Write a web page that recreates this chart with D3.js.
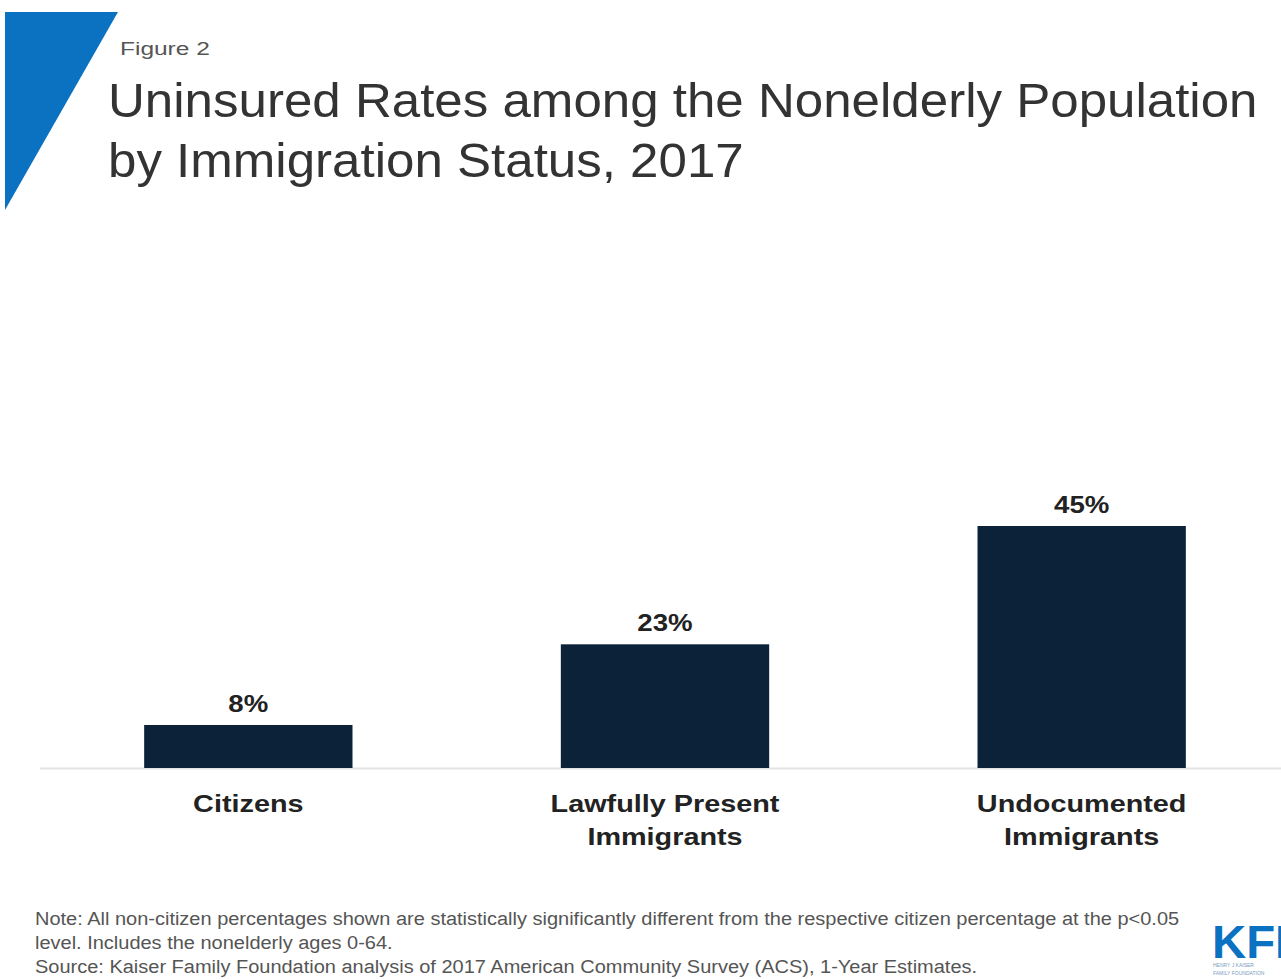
<!DOCTYPE html>
<html><head><meta charset="utf-8">
<script src="https://cdnjs.cloudflare.com/ajax/libs/d3/7.8.5/d3.min.js"></script>
<style>body{margin:0;background:#fff;}svg{display:block;}</style>
</head><body>
<script>
const categories = [["Citizens"], ["Lawfully Present", "Immigrants"], ["Undocumented", "Immigrants"]];
const values = [8, 23, 45];
const valueLabels = ["8%", "23%", "45%"];
const titleLines = ["Uninsured Rates among the Nonelderly Population", "by Immigration Status, 2017"];
const noteLines = [
  "Note: All non-citizen percentages shown are statistically significantly different from the respective citizen percentage at the p<0.05",
  "level. Includes the nonelderly ages 0-64.",
  "Source: Kaiser Family Foundation analysis of 2017 American Community Survey (ACS), 1-Year Estimates."
];

const W = 1281, H = 979;
const FONT = "Liberation Sans, Arial, sans-serif";
const svg = d3.select("body").append("svg").attr("width", W).attr("height", H);

// stretch text horizontally by a factor (reference type is wider than the font)
function stretch(sel, f) {
  sel.each(function () {
    const w = this.getComputedTextLength();
    d3.select(this).attr("textLength", w * f).attr("lengthAdjust", "spacingAndGlyphs");
  });
}

// blue triangle
svg.append("path").attr("d", "M5,12 L118,12 L5,210 Z").attr("fill", "#0a72c1");

svg.append("text").attr("x", 120).attr("y", 55).text("Figure 2")
  .attr("font-family", FONT).attr("font-size", 18).attr("fill", "#555")
  .call(stretch, 1.36);

svg.selectAll("text.title").data(titleLines).join("text").attr("class", "title")
  .attr("x", 108).attr("y", (d, i) => 117 + i * 60).text(d => d)
  .attr("font-family", FONT).attr("font-size", 49).attr("fill", "#333")
  .call(stretch, 1.042);

const baseY = 768;
const x = d3.scaleBand().domain(d3.range(values.length)).range([40, 1290]).paddingInner(0.5).paddingOuter(0.25);
const y = d3.scaleLinear().domain([0, 45]).range([baseY, 526]);

svg.append("line").attr("x1", 40).attr("x2", W).attr("y1", baseY + 0.5).attr("y2", baseY + 0.5)
  .attr("stroke", "#e4e4e4").attr("stroke-width", 2);

svg.selectAll("rect.bar").data(values).join("rect").attr("class", "bar")
  .attr("x", (d, i) => x(i)).attr("width", x.bandwidth())
  .attr("y", d => y(d)).attr("height", d => baseY - y(d)).attr("fill", "#0b2239");

svg.selectAll("text.val").data(values).join("text").attr("class", "val")
  .attr("x", (d, i) => x(i) + x.bandwidth() / 2).attr("y", d => y(d) - 13)
  .attr("text-anchor", "middle").text((d, i) => valueLabels[i])
  .attr("font-family", FONT).attr("font-weight", "bold").attr("font-size", 24).attr("fill", "#222")
  .call(stretch, 1.15);

categories.forEach((lines, i) => {
  svg.append("text").attr("class", "cat").attr("text-anchor", "middle")
    .attr("font-family", FONT).attr("font-weight", "bold").attr("font-size", 24).attr("fill", "#222")
    .selectAll("tspan").data(lines).join("tspan")
    .attr("x", x(i) + x.bandwidth() / 2).attr("y", (d, j) => 812 + j * 33).text(d => d);
});
svg.selectAll("text.cat tspan").each(function () {
  const w = this.getComputedTextLength();
  d3.select(this).attr("textLength", w * 1.2).attr("lengthAdjust", "spacingAndGlyphs");
});

svg.selectAll("text.note").data(noteLines).join("text").attr("class", "note")
  .attr("x", 35).attr("y", (d, i) => 925 + i * 24).text(d => d)
  .attr("font-family", FONT).attr("font-size", 18).attr("fill", "#555")
  .call(stretch, 1.11);

// logo (partially cut at right edge as in reference)
const logo = svg.append("g");
logo.append("text").attr("x", 1212).attr("y", 958).text("KFF")
  .attr("font-family", FONT).attr("font-weight", "bold").attr("font-size", 46).attr("fill", "#0a72c1")
  .attr("textLength", 92).attr("lengthAdjust", "spacingAndGlyphs");
logo.append("text").attr("x", 1213).attr("y", 967).text("HENRY J KAISER")
  .attr("font-family", FONT).attr("font-size", 5).attr("fill", "#7a9cc0");
logo.append("text").attr("x", 1213).attr("y", 975).text("FAMILY FOUNDATION")
  .attr("font-family", FONT).attr("font-size", 5).attr("fill", "#7a9cc0");
</script>
</body></html>
